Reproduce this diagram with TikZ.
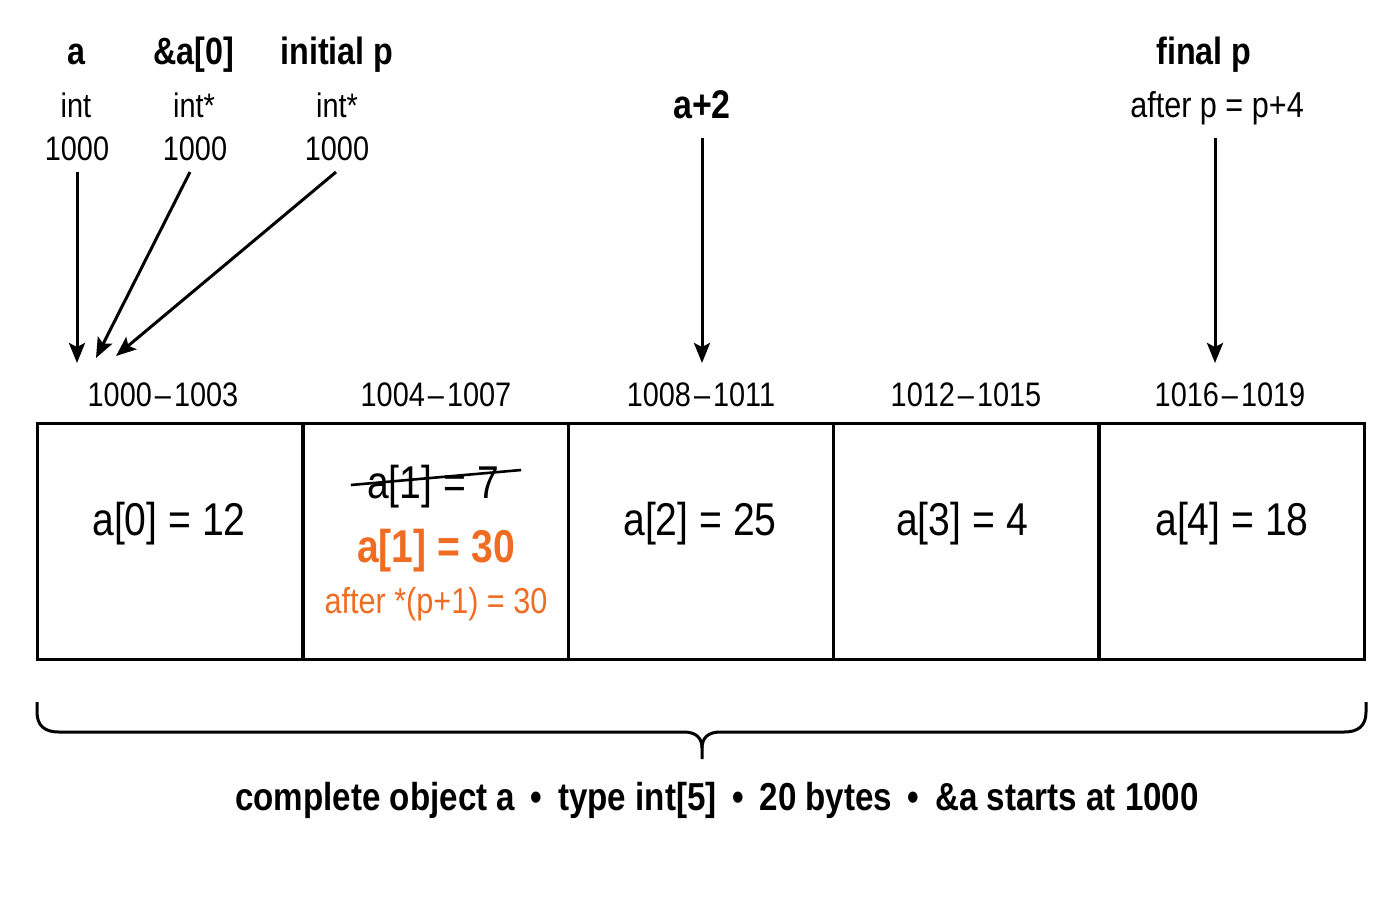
\documentclass[tikz,border=0pt]{standalone}
\usepackage{fontspec}
\setmainfont{Liberation Sans}[FakeStretch=0.85]
\usetikzlibrary{arrows.meta}
\definecolor{accent}{RGB}{240,108,34}
\tikzset{
  txt/.style={inner sep=0pt, anchor=base},
  ttl/.style={txt, font=\fontsize{19}{22}\selectfont\bfseries},
  sub/.style={txt, font=\fontsize{17}{20}\selectfont},
  addr/.style={txt, font=\fontsize{17}{20}\selectfont},
  val/.style={txt, font=\fontsize{23}{26}\selectfont},
  cell/.style={draw, line width=1.5pt, minimum width=132.9pt, minimum height=118pt, inner sep=0pt},
  ptr/.style={line width=1.5pt, -{Stealth[length=10pt,width=8pt,inset=2pt]}},
}
\newcommand{\rng}[2]{#1\kern1.5pt–\kern1.5pt#2}
\begin{document}
\begin{tikzpicture}[x=0.5pt,y=-0.5pt]
\useasboundingbox[fill=white] (0,0) rectangle (1400,900);

% memory cells
\node[cell] (c0) at (170,541) {};
\node[cell] (c1) at (436,541) {};
\node[cell] (c2) at (701,541) {};
\node[cell] (c3) at (966,541) {};
\node[cell] (c4) at (1232,541) {};

% address labels
\node[addr] (ad0) at (163,406) {\rng{1000}{1003}};
\node[addr] (ad1) at (436,406) {\rng{1004}{1007}};
\node[addr] (ad2) at (701,406) {\rng{1008}{1011}};
\node[addr] (ad3) at (966,406) {\rng{1012}{1015}};
\node[addr] (ad4) at (1230,406) {\rng{1016}{1019}};

% cell values
\node[val] (v0) at (169,535) {a[0] = 12};
\node[val] (v1old) at (433,498) {a[1] = 7};
\node[val, text=accent, font=\fontsize{23}{26}\selectfont\bfseries] (v1) at (436,562) {a[1] = 30};
\node[txt, text=accent, font=\fontsize{18}{21}\selectfont] (v1n) at (436,613) {after *(p+1) = 30};
\node[val] (v2) at (700,535) {a[2] = 25};
\node[val] (v3) at (962,535) {a[3] = 4};
\node[val] (v4) at (1232,535) {a[4] = 18};
\draw[line width=1.3pt] ([xshift=-8pt,yshift=6.5pt]v1old.base west) -- ([xshift=11pt,yshift=14pt]v1old.base east);

% top labels
\node[ttl] (ta) at (76,64) {a};
\node[sub] (ya) at (76,117) {int};
\node[sub] (na) at (77,160) {1000};
\node[ttl] (tb) at (194,64) {\&a[0]};
\node[sub] (yb) at (194,117) {int*};
\node[sub] (nb) at (195,160) {1000};
\node[ttl] (tc) at (337,64) {initial p};
\node[sub] (yc) at (337,117) {int*};
\node[sub] (nc) at (337,160) {1000};
\node[ttl, font=\fontsize{20}{23}\selectfont\bfseries] (tm) at (702,118) {a+2};
\node[ttl] (tf) at (1204,64) {final p};
\node[txt, font=\fontsize{18}{21}\selectfont] (sf) at (1217,117) {after p = p+4};

% pointer tips
\coordinate (pa) at (77,363);
\coordinate (pb) at (96,358);
\coordinate (pc) at (116,356);
\coordinate (pm) at (702,363);
\coordinate (pf) at (1215,363);
\coordinate (sa) at (77,172);
\coordinate (sb) at (190,172);
\coordinate (sc) at (336,172);
\coordinate (sm) at (702,138);
\coordinate (sf0) at (1215,138);

\draw[ptr] (sa) -- (pa);
\draw[ptr] (sb) -- (pb);
\draw[ptr] (sc) -- (pc);
\draw[ptr] (sm) -- (pm);
\draw[ptr] (sf0) -- (pf);

% brace
\coordinate (bl) at (37,702);
\coordinate (br) at (1366,702);
\coordinate (bt) at (702,759);
\draw[line width=1.5pt, line join=round]
  (bl) -- (37,712) .. controls (37,726) and (45,732) .. (59,732) -- (684,732)
  .. controls (696,732) and (702,738) .. (702,748) -- (bt);
\draw[line width=1.5pt, line join=round]
  (702,748) .. controls (702,738) and (708,732) .. (720,732) -- (1344,732)
  .. controls (1358,732) and (1366,726) .. (1366,712) -- (br);

\node[txt, font=\fontsize{19.5}{23}\selectfont\bfseries] (cap) at (717,810)
  {complete object a \,•\, type int[5] \,•\, 20 bytes \,•\, \&a starts at 1000};
\end{tikzpicture}
\end{document}
